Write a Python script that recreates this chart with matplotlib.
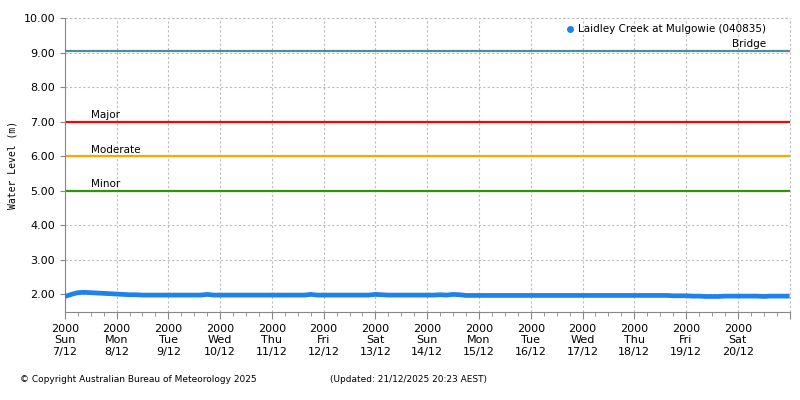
import matplotlib
matplotlib.use("Agg")
import matplotlib.pyplot as plt
import matplotlib.dates as mdates
import pandas as pd

# water level every 3 hours, starting Sun 7/12 20:00
day07 = [1.93, 1.99]
day08 = [2.04, 2.05, 2.04, 2.03, 2.02, 2.01, 2.00, 1.99]
day09 = [1.98, 1.98, 1.97, 1.97, 1.97, 1.97, 1.97, 1.97]
day10 = [1.97, 1.97, 1.97, 1.97, 1.99, 1.97, 1.97, 1.97]
day11 = [1.97, 1.97, 1.97, 1.97, 1.97, 1.97, 1.97, 1.97]
day12 = [1.97, 1.97, 1.97, 1.97, 1.99, 1.97, 1.97, 1.97]
day13 = [1.97, 1.97, 1.97, 1.97, 1.97, 1.97, 1.99, 1.98]
day14 = [1.97, 1.97, 1.97, 1.97, 1.97, 1.97, 1.97, 1.97]
day15 = [1.98, 1.97, 1.99, 1.98, 1.96, 1.96, 1.96, 1.96]
day16 = [1.96, 1.96, 1.96, 1.96, 1.96, 1.96, 1.96, 1.96]
day17 = [1.96, 1.96, 1.96, 1.96, 1.96, 1.96, 1.96, 1.96]
day18 = [1.96, 1.96, 1.96, 1.96, 1.96, 1.96, 1.96, 1.96]
day19 = [1.96, 1.96, 1.96, 1.96, 1.95, 1.95, 1.95, 1.94]
day20 = [1.94, 1.93, 1.93, 1.93, 1.94, 1.94, 1.94, 1.94]
day21 = [1.94, 1.94, 1.93, 1.94, 1.94, 1.94, 1.94]
levels = (day07 + day08 + day09 + day10 + day11 + day12 + day13 + day14
          + day15 + day16 + day17 + day18 + day19 + day20 + day21)
times = pd.date_range("2025-12-07 20:00", periods=len(levels), freq="3h")

thresholds = [("Bridge", 9.05, "#4f8c9a"), ("Major", 7.0, "#ff0000"),
              ("Moderate", 6.0, "#ffa500"), ("Minor", 5.0, "#2e9600")]
station = "Laidley Creek at Mulgowie (040835)"
blue = "#1e82ea"

fig = plt.figure(figsize=(8, 4), dpi=100)
ax = fig.add_axes([0.081, 0.22, 0.906, 0.735])

t0 = pd.Timestamp("2025-12-07 20:00")
t1 = pd.Timestamp("2025-12-21 20:00")

for name, val, col in thresholds:
    ax.axhline(val, color=col, lw=1.6, zorder=2)
    if name == "Bridge":
        ax.text(t1 - pd.Timedelta(hours=11), val + 0.04, name, ha="right", va="bottom", fontsize=7.5)
    else:
        ax.text(t0 + pd.Timedelta(hours=12), val + 0.04, name, ha="left", va="bottom", fontsize=7.5)

ax.plot(times, levels, color=blue, lw=3.4, solid_capstyle="butt", zorder=3)
ax.plot([], [], "o", color=blue, ms=4, label=station)
ax.legend(loc="upper right", bbox_to_anchor=(0.976, 1.0), frameon=False, fontsize=7.5,
          handletextpad=0.3, borderaxespad=0.2, handlelength=1)

ax.set_xlim(t0, t1)
ax.set_ylim(1.48, 10.0)
ax.set_yticks([2, 3, 4, 5, 6, 7, 8, 9, 10])
ax.yaxis.set_major_formatter(plt.FormatStrFormatter("%.2f"))
ax.set_ylabel("Water Level (m)", family="DejaVu Sans Mono", fontsize=7, labelpad=4)

ax.xaxis.set_major_locator(mdates.HourLocator(byhour=[20]))
ax.xaxis.set_minor_locator(mdates.HourLocator(byhour=[2, 8, 14]))

def fmt(x, pos):
    d = mdates.num2date(x).replace(tzinfo=None)
    if d >= t1.to_pydatetime():
        return ""
    return "2000\n%s\n%d/%d" % (d.strftime("%a"), d.day, d.month)

ax.xaxis.set_major_formatter(plt.FuncFormatter(fmt))
ax.tick_params(labelsize=8, color="#888888")
ax.tick_params(axis="x", which="major", length=5)
ax.tick_params(axis="x", which="minor", length=3, color="#888888")

ax.grid(True, which="major", ls=(0, (2, 2)), color="#bbbbbb", lw=0.8)
for s in ["top", "right"]:
    ax.spines[s].set_visible(False)
for s in ["left", "bottom"]:
    ax.spines[s].set_color("#888888")

# dashed top/right edge like the grid
ax.axhline(10.0, ls=(0, (2, 2)), color="#bbbbbb", lw=0.8, clip_on=False)
ax.axvline(t1, ls=(0, (2, 2)), color="#bbbbbb", lw=0.8, clip_on=False)

fig.text(0.025, 0.045, "\u00a9 Copyright Australian Bureau of Meteorology 2025", fontsize=6.5)
fig.text(0.412, 0.045, "(Updated: 21/12/2025 20:23 AEST)", fontsize=6.5)

fig.savefig("out.png", dpi=100)
